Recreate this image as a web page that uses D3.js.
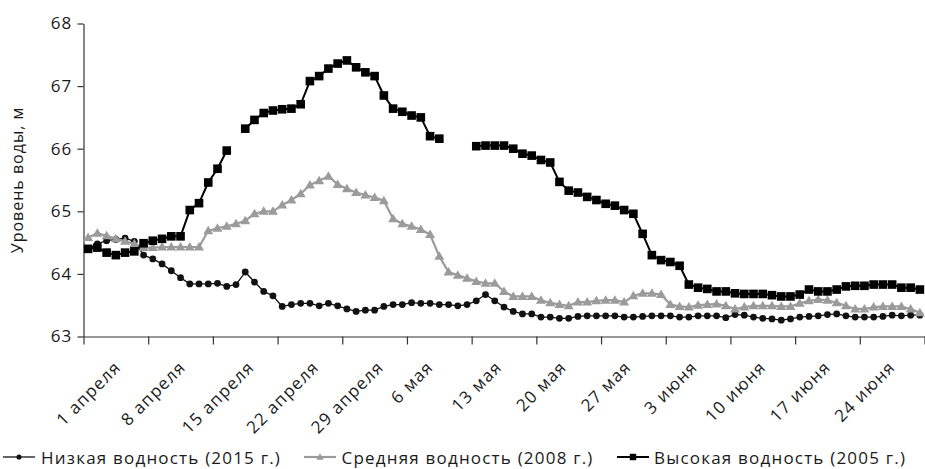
<!DOCTYPE html>
<html>
<head>
<meta charset="utf-8">
<script src="https://cdn.jsdelivr.net/npm/d3@7"></script>
<style>
  body { margin: 0; background: #fff; }
  svg text { font-family: "Open Sans", "Noto Sans", sans-serif; fill: #1a1a1a; }
</style>
</head>
<body>
<svg id="chart" width="925" height="469"></svg>
<script>
// Daily water level, 1 April – 30 June (one value per day), metres
const xTickLabels = ["1 апреля", "8 апреля", "15 апреля", "22 апреля", "29 апреля", "6 мая",
  "13 мая", "20 мая", "27 мая", "3 июня", "10 июня", "17 июня", "24 июня"];

const yTickValues = [63, 64, 65, 66, 67, 68];

const seriesNames = ["Низкая водность (2015 г.)", "Средняя водность (2008 г.)", "Высокая водность (2005 г.)"];

const lowWater2015 = [
  64.40, 64.48, 64.53, 64.55, 64.57, 64.52, 64.30, 64.24, 64.16, 64.05,
  63.94, 63.84, 63.84, 63.84, 63.85, 63.80, 63.83, 64.03, 63.87, 63.72,
  63.65, 63.48, 63.51, 63.53, 63.53, 63.49, 63.53, 63.49, 63.44, 63.40,
  63.42, 63.42, 63.48, 63.51, 63.51, 63.54, 63.53, 63.53, 63.51, 63.51,
  63.49, 63.51, 63.57, 63.67, 63.57, 63.47, 63.40, 63.36, 63.36, 63.31,
  63.31, 63.29, 63.29, 63.32, 63.33, 63.33, 63.33, 63.33, 63.31, 63.31,
  63.32, 63.33, 63.33, 63.33, 63.31, 63.31, 63.33, 63.33, 63.33, 63.30,
  63.35, 63.34, 63.31, 63.29, 63.28, 63.26, 63.28, 63.31, 63.32, 63.33,
  63.35, 63.36, 63.33, 63.31, 63.31, 63.31, 63.32, 63.34, 63.33, 63.34,
  63.34
];

const midWater2008 = [
  64.58, 64.65, 64.61, 64.56, 64.52, 64.48, 64.42, 64.42, 64.43, 64.43,
  64.43, 64.43, 64.43, 64.69, 64.73, 64.76, 64.80, 64.85, 64.96, 65.00,
  65.00, 65.10, 65.18, 65.28, 65.42, 65.49, 65.56, 65.43, 65.36, 65.30,
  65.26, 65.22, 65.17, 64.88, 64.80, 64.76, 64.71, 64.63, 64.28, 64.03,
  63.98, 63.93, 63.88, 63.85, 63.85, 63.72, 63.64, 63.64, 63.64, 63.58,
  63.54, 63.51, 63.49, 63.55, 63.55, 63.57, 63.58, 63.58, 63.55, 63.65,
  63.69, 63.69, 63.67, 63.51, 63.48, 63.47, 63.50, 63.51, 63.52, 63.49,
  63.44, 63.47, 63.49, 63.49, 63.49, 63.48, 63.48, 63.53, 63.57, 63.59,
  63.58, 63.54, 63.49, 63.44, 63.44, 63.47, 63.48, 63.48, 63.48, 63.44,
  63.38
];

// null = no observation that day
const highWater2005 = [
  64.40, 64.42, 64.34, 64.30, 64.34, 64.36, 64.49, 64.53, 64.56, 64.60,
  64.60, 65.02, 65.13, 65.46, 65.68, 65.97, null, 66.32, 66.46, 66.57,
  66.61, 66.63, 66.64, 66.71, 67.08, 67.16, 67.28, 67.36, 67.41, 67.30,
  67.22, 67.16, 66.85, 66.64, 66.59, 66.53, 66.50, 66.20, 66.16, null,
  null, null, 66.04, 66.05, 66.05, 66.05, 66.00, 65.92, 65.89, 65.82,
  65.78, 65.47, 65.33, 65.30, 65.23, 65.18, 65.12, 65.09, 65.02, 64.96,
  64.64, 64.30, 64.22, 64.19, 64.13, 63.83, 63.78, 63.76, 63.72, 63.72,
  63.69, 63.68, 63.68, 63.68, 63.66, 63.64, 63.64, 63.67, 63.75, 63.72,
  63.72, 63.75, 63.80, 63.81, 63.81, 63.83, 63.83, 63.83, 63.78, 63.78,
  63.75
];

const svg = d3.select("#chart");
const plot = { left: 83.5, right: 924.5, top: 23.5, bottom: 336.5 };
const nDays = lowWater2015.length;
const labelStep = 7;

const x = d3.scaleLinear().domain([0, nDays]).range([plot.left, plot.right]);
const y = d3.scaleLinear().domain([63, 68]).range([plot.bottom, plot.top]);
const axisColor = "#333";
const fontSize = 17;
const spacing = "1.2px";

// Y axis
const yAxis = svg.append("g")
  .attr("transform", `translate(${plot.left},0)`)
  .call(d3.axisLeft(y).tickValues(yTickValues).tickFormat(d3.format("d"))
    .tickSize(6).tickPadding(5).tickSizeOuter(0));
yAxis.select(".domain").attr("stroke", axisColor).attr("stroke-width", 1.2);
yAxis.selectAll(".tick line").attr("stroke", axisColor).attr("stroke-width", 1.2);
yAxis.selectAll(".tick text")
  .style("font-size", fontSize + "px")
  .style("letter-spacing", spacing)
  .attr("fill", "#1a1a1a");

svg.append("text")
  .attr("transform", `translate(23,${(plot.top + plot.bottom) / 2}) rotate(-90)`)
  .attr("text-anchor", "middle")
  .style("font-size", "16px")
  .style("letter-spacing", "1px")
  .text("Уровень воды, м");

// X axis: tick marks on category boundaries every week
const xAxis = svg.append("g")
  .attr("transform", `translate(0,${plot.bottom})`)
  .call(d3.axisBottom(x).tickValues(d3.range(0, nDays + 1, labelStep)).tickSize(8).tickFormat("").tickSizeOuter(0));
xAxis.select(".domain").attr("stroke", axisColor).attr("stroke-width", 1.2);
xAxis.selectAll(".tick line").attr("stroke", axisColor).attr("stroke-width", 1.2);

// Week labels, centred on their category and rotated 45°
const labelTop = 358;
svg.append("g").selectAll("text")
  .data(xTickLabels)
  .join("text")
  .style("font-size", fontSize + "px")
  .style("letter-spacing", spacing)
  .attr("text-anchor", "middle")
  .attr("dominant-baseline", "central")
  .text(d => d)
  .each(function (d, i) {
    const w = this.getComputedTextLength();
    const h = fontSize * 0.95;
    const cx = x(i * labelStep + 0.5);
    const cy = labelTop + (w + h) * Math.SQRT1_2 / 2;
    d3.select(this).attr("transform", `translate(${cx},${cy}) rotate(-45)`);
  });

// Series
const line = d3.line()
  .defined(d => d != null)
  .x((d, i) => x(i + 0.5))
  .y(d => y(d));

const grey = "#9b9b9b";
const series = [
  { values: lowWater2015, color: "#111", width: 1.3, marker: "circle" },
  { values: midWater2008, color: grey, width: 2.2, marker: "triangle" },
  { values: highWater2005, color: "#000", width: 2, marker: "square" }
];

function drawMarker(g, type, color, cx, cy, k = 1) {
  if (type === "circle") {
    g.append("circle").attr("cx", cx).attr("cy", cy).attr("r", 3.4 * k).attr("fill", color);
  } else if (type === "square") {
    const s = 4.3 * k;
    g.append("rect").attr("x", cx - s).attr("y", cy - s).attr("width", 2 * s).attr("height", 2 * s).attr("fill", color);
  } else {
    g.append("path")
      .attr("d", `M${cx},${cy - 5 * k}L${cx + 5 * k},${cy + 3.5 * k}L${cx - 5 * k},${cy + 3.5 * k}Z`)
      .attr("fill", color);
  }
}

series.forEach(s => {
  const g = svg.append("g");
  g.append("path")
    .datum(s.values)
    .attr("fill", "none")
    .attr("stroke", s.color)
    .attr("stroke-width", s.width)
    .attr("stroke-linejoin", "round")
    .attr("d", line);
  s.values.forEach((v, i) => {
    if (v != null) drawMarker(g, s.marker, s.color, x(i + 0.5), y(v));
  });
});

// Legend
const legendY = 457;
const legendItems = [
  { x0: 3, tx: 41 },
  { x0: 304, tx: 341.5 },
  { x0: 617, tx: 654 }
];
legendItems.forEach((p, i) => {
  const s = series[i];
  const g = svg.append("g");
  g.append("line").attr("x1", p.x0).attr("x2", p.x0 + 32).attr("y1", legendY).attr("y2", legendY)
    .attr("stroke", s.color).attr("stroke-width", s.width);
  drawMarker(g, s.marker, s.color, p.x0 + 16, legendY, 0.75);
  g.append("text").attr("x", p.tx).attr("y", legendY).attr("dominant-baseline", "central")
    .style("font-size", fontSize + "px")
    .style("letter-spacing", spacing)
    .text(seriesNames[i]);
});
</script>
</body>
</html>
